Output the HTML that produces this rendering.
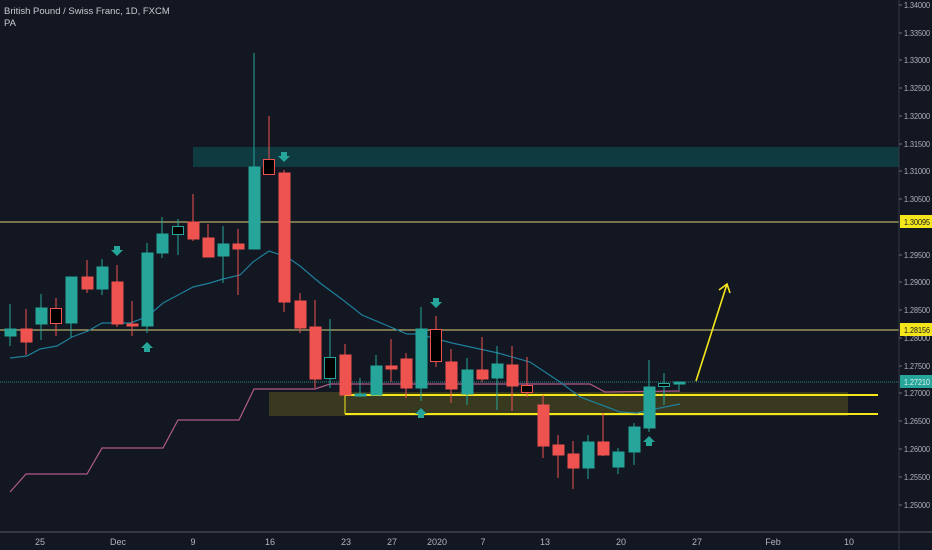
<!DOCTYPE html>
<html><head><meta charset="utf-8"><style>
html,body{margin:0;padding:0;background:#131722;}
svg{display:block}
text{font-family:"Liberation Sans",sans-serif;}
</style></head><body>
<svg width="932" height="550" viewBox="0 0 932 550" xmlns="http://www.w3.org/2000/svg">
<rect width="932" height="550" fill="#131722"/>
<rect x="193" y="147" width="706" height="20" fill="#0f3a40"/>
<rect x="269" y="392" width="579" height="24" fill="#38391f"/>
<line x1="0" y1="222" x2="899" y2="222" stroke="#d8cf7a" stroke-width="1"/>
<line x1="0" y1="330" x2="899" y2="330" stroke="#d8cf7a" stroke-width="1"/>
<line x1="0" y1="382" x2="899" y2="382" stroke="#2a8a86" stroke-width="1" stroke-dasharray="1,1"/>
<line x1="345" y1="395" x2="878" y2="395" stroke="#f5e61c" stroke-width="2"/>
<line x1="345" y1="414" x2="878" y2="414" stroke="#f5e61c" stroke-width="2"/>
<line x1="345" y1="395" x2="345" y2="414" stroke="#f5e61c" stroke-width="1"/>
<polyline fill="none" stroke="#b05a8a" stroke-width="1.2" points="10,492 26,474 87,474 102,448 163,448 178,420 239,420 254,389 315,389 330,384 590,384 605,392 680,391"/>
<polyline fill="none" stroke="#1f7f9a" stroke-width="1.2" points="10,358 27,356 40,349 57,346 72,337 88,331 102,323 130,323 147,317 163,303 180,294 193,287 210,283 223,279 240,275 253,262 269,251 287,257 300,266 320,283 343,300 362,315 407,334 418,334 452,343 498,353 530,362 560,382 580,397 607,407 620,412 637,413 650,410 680,404"/>
<g stroke-width="1">
<g stroke="#26a69a" fill="#26a69a">
<line x1="10" y1="304" x2="10" y2="346"/><rect x="5" y="329" width="11" height="7"/>
<line x1="41" y1="294" x2="41" y2="340"/><rect x="36" y="308" width="11" height="16"/>
<line x1="71" y1="277" x2="71" y2="337"/><rect x="66" y="277" width="11" height="46"/>
<line x1="102" y1="259" x2="102" y2="295"/><rect x="97" y="267" width="11" height="22"/>
<line x1="147" y1="243" x2="147" y2="333"/><rect x="142" y="253" width="11" height="73"/>
<line x1="162" y1="217" x2="162" y2="258"/><rect x="157" y="234" width="11" height="19"/>
<line x1="223" y1="226" x2="223" y2="283"/><rect x="218" y="244" width="11" height="12"/>
<line x1="254" y1="53" x2="254" y2="249"/><rect x="249" y="167" width="11" height="82"/>
<line x1="360" y1="378" x2="360" y2="397"/><rect x="355" y="394" width="11" height="2"/>
<line x1="376" y1="355" x2="376" y2="395"/><rect x="371" y="366" width="11" height="29"/>
<line x1="421" y1="307" x2="421" y2="401"/><rect x="416" y="329" width="11" height="59"/>
<line x1="467" y1="358" x2="467" y2="405"/><rect x="462" y="370" width="11" height="24"/>
<line x1="497" y1="346" x2="497" y2="410"/><rect x="492" y="364" width="11" height="14"/>
<line x1="588" y1="435" x2="588" y2="479"/><rect x="583" y="442" width="11" height="26"/>
<line x1="618" y1="448" x2="618" y2="474"/><rect x="613" y="452" width="11" height="15"/>
<line x1="634" y1="423" x2="634" y2="465"/><rect x="629" y="427" width="11" height="25"/>
<line x1="649" y1="360" x2="649" y2="432"/><rect x="644" y="387" width="11" height="41"/>
<line x1="679" y1="382" x2="679" y2="390"/><rect x="674" y="382" width="11" height="2"/>
</g>
<g stroke="#26a69a" fill="#000">
<line x1="178" y1="219" x2="178" y2="255"/><rect x="172.5" y="226.5" width="11" height="8"/>
<line x1="330" y1="319" x2="330" y2="388"/><rect x="324.5" y="357.5" width="11" height="21"/>
<line x1="664" y1="373" x2="664" y2="405"/><rect x="658.5" y="383.5" width="11" height="3"/>
</g>
<g stroke="#ef5350" fill="#ef5350">
<line x1="26" y1="309" x2="26" y2="355"/><rect x="21" y="329" width="11" height="13"/>
<line x1="87" y1="260" x2="87" y2="293"/><rect x="82" y="277" width="11" height="12"/>
<line x1="117" y1="265" x2="117" y2="327"/><rect x="112" y="282" width="11" height="42"/>
<line x1="132" y1="301" x2="132" y2="336"/><rect x="127" y="324" width="11" height="2"/>
<line x1="193" y1="194" x2="193" y2="241"/><rect x="188" y="222" width="11" height="17"/>
<line x1="208" y1="224" x2="208" y2="257"/><rect x="203" y="238" width="11" height="19"/>
<line x1="238" y1="229" x2="238" y2="295"/><rect x="233" y="244" width="11" height="5"/>
<line x1="284" y1="170" x2="284" y2="312"/><rect x="279" y="173" width="11" height="129"/>
<line x1="300" y1="293" x2="300" y2="333"/><rect x="295" y="301" width="11" height="27"/>
<line x1="315" y1="300" x2="315" y2="388"/><rect x="310" y="327" width="11" height="52"/>
<line x1="345" y1="344" x2="345" y2="395"/><rect x="340" y="355" width="11" height="40"/>
<line x1="391" y1="339" x2="391" y2="382"/><rect x="386" y="366" width="11" height="3"/>
<line x1="406" y1="353" x2="406" y2="398"/><rect x="401" y="359" width="11" height="29"/>
<line x1="451" y1="349" x2="451" y2="403"/><rect x="446" y="362" width="11" height="27"/>
<line x1="482" y1="337" x2="482" y2="382"/><rect x="477" y="370" width="11" height="9"/>
<line x1="512" y1="346" x2="512" y2="411"/><rect x="507" y="365" width="11" height="21"/>
<line x1="543" y1="395" x2="543" y2="458"/><rect x="538" y="405" width="11" height="41"/>
<line x1="558" y1="435" x2="558" y2="478"/><rect x="553" y="445" width="11" height="10"/>
<line x1="573" y1="441" x2="573" y2="489"/><rect x="568" y="454" width="11" height="14"/>
<line x1="603" y1="413" x2="603" y2="456"/><rect x="598" y="442" width="11" height="13"/>
</g>
<g stroke="#ef5350" fill="#000">
<line x1="56" y1="298" x2="56" y2="336"/><rect x="50.5" y="308.5" width="11" height="15"/>
<line x1="269" y1="116" x2="269" y2="175"/><rect x="263.5" y="159.5" width="11" height="15"/>
<line x1="436" y1="316" x2="436" y2="367"/><rect x="430.5" y="329.5" width="11" height="32"/>
<line x1="527" y1="357" x2="527" y2="397"/><rect x="521.5" y="385.5" width="11" height="7"/>
</g>
</g>
<g fill="#26a69a">
<path d="M114,246 h6 v4 h3 l-6,6 l-6,-6 h3z"/>
<path d="M281,152 h6 v4 h3 l-6,6 l-6,-6 h3z"/>
<path d="M433,298 h6 v4 h3 l-6,6 l-6,-6 h3z"/>
<path d="M144,352 h6 v-4 h3 l-6,-6 l-6,6 h3z"/>
<path d="M418,418 h6 v-4 h3 l-6,-6 l-6,6 h3z"/>
<path d="M646,446 h6 v-4 h3 l-6,-6 l-6,6 h3z"/>
</g>
<g stroke="#f5e61c" stroke-width="1.6" fill="none">
<line x1="696" y1="381" x2="727" y2="284"/>
<polyline points="719,290 727,284 730,293"/>
</g>
<line x1="899" y1="0" x2="899" y2="550" stroke="#363a45"/>
<line x1="0" y1="532" x2="932" y2="532" stroke="#363a45" stroke-width="2"/>
<g stroke="#6a6d78">
<line x1="899" y1="5" x2="902" y2="5"/><line x1="899" y1="33" x2="902" y2="33"/><line x1="899" y1="60" x2="902" y2="60"/><line x1="899" y1="88" x2="902" y2="88"/><line x1="899" y1="116" x2="902" y2="116"/><line x1="899" y1="144" x2="902" y2="144"/><line x1="899" y1="171" x2="902" y2="171"/><line x1="899" y1="199" x2="902" y2="199"/><line x1="899" y1="255" x2="902" y2="255"/><line x1="899" y1="282" x2="902" y2="282"/><line x1="899" y1="310" x2="902" y2="310"/><line x1="899" y1="338" x2="902" y2="338"/><line x1="899" y1="366" x2="902" y2="366"/><line x1="899" y1="393" x2="902" y2="393"/><line x1="899" y1="421" x2="902" y2="421"/><line x1="899" y1="449" x2="902" y2="449"/><line x1="899" y1="477" x2="902" y2="477"/><line x1="899" y1="505" x2="902" y2="505"/>
</g>
<g fill="#b2b5be" font-size="8.5" lengthAdjust="spacingAndGlyphs">
<text x="904" y="8" textLength="26" lengthAdjust="spacingAndGlyphs">1.34000</text>
<text x="904" y="36" textLength="26" lengthAdjust="spacingAndGlyphs">1.33500</text>
<text x="904" y="63" textLength="26" lengthAdjust="spacingAndGlyphs">1.33000</text>
<text x="904" y="91" textLength="26" lengthAdjust="spacingAndGlyphs">1.32500</text>
<text x="904" y="119" textLength="26" lengthAdjust="spacingAndGlyphs">1.32000</text>
<text x="904" y="147" textLength="26" lengthAdjust="spacingAndGlyphs">1.31500</text>
<text x="904" y="174" textLength="26" lengthAdjust="spacingAndGlyphs">1.31000</text>
<text x="904" y="202" textLength="26" lengthAdjust="spacingAndGlyphs">1.30500</text>
<text x="904" y="258" textLength="26" lengthAdjust="spacingAndGlyphs">1.29500</text>
<text x="904" y="285" textLength="26" lengthAdjust="spacingAndGlyphs">1.29000</text>
<text x="904" y="313" textLength="26" lengthAdjust="spacingAndGlyphs">1.28500</text>
<text x="904" y="341" textLength="26" lengthAdjust="spacingAndGlyphs">1.28000</text>
<text x="904" y="369" textLength="26" lengthAdjust="spacingAndGlyphs">1.27500</text>
<text x="904" y="396" textLength="26" lengthAdjust="spacingAndGlyphs">1.27000</text>
<text x="904" y="424" textLength="26" lengthAdjust="spacingAndGlyphs">1.26500</text>
<text x="904" y="452" textLength="26" lengthAdjust="spacingAndGlyphs">1.26000</text>
<text x="904" y="480" textLength="26" lengthAdjust="spacingAndGlyphs">1.25500</text>
<text x="904" y="508" textLength="26" lengthAdjust="spacingAndGlyphs">1.25000</text>
</g>
<rect x="900" y="215" width="32" height="13" fill="#f5e61c"/>
<text x="904" y="225" font-size="8.5" fill="#131722" textLength="26" lengthAdjust="spacingAndGlyphs">1.30095</text>
<rect x="900" y="323" width="32" height="13" fill="#f5e61c"/>
<text x="904" y="333" font-size="8.5" fill="#131722" textLength="26" lengthAdjust="spacingAndGlyphs">1.28156</text>
<rect x="900" y="375" width="32" height="13" fill="#26a69a"/>
<text x="904" y="385" font-size="8.5" fill="#e0f0ee" textLength="26" lengthAdjust="spacingAndGlyphs">1.27210</text>
<g fill="#b2b5be" font-size="9" text-anchor="middle">
<text x="40" y="545">25</text>
<text x="118" y="545">Dec</text>
<text x="193" y="545">9</text>
<text x="270" y="545">16</text>
<text x="346" y="545">23</text>
<text x="392" y="545">27</text>
<text x="437" y="545">2020</text>
<text x="483" y="545">7</text>
<text x="545" y="545">13</text>
<text x="621" y="545">20</text>
<text x="697" y="545">27</text>
<text x="773" y="545">Feb</text>
<text x="849" y="545">10</text>
</g>
<text x="4" y="14" font-size="9.5" fill="#c8cad0">British Pound / Swiss Franc, 1D, FXCM</text>
<text x="4" y="26" font-size="9.5" fill="#c8cad0">PA</text>
</svg>
</body></html>
